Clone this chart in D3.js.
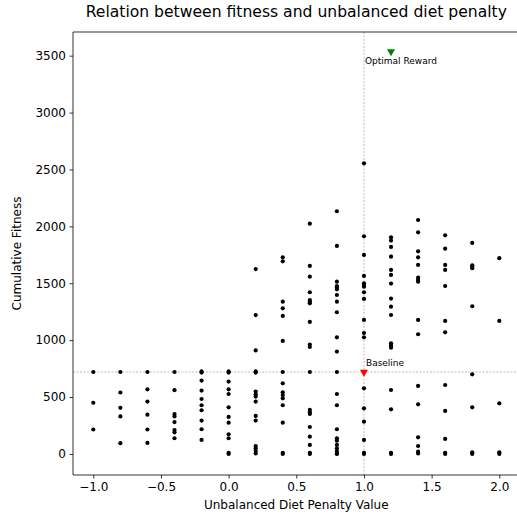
<!DOCTYPE html>
<html>
<head>
<meta charset="utf-8">
<script src="https://cdn.jsdelivr.net/npm/d3@7"></script>
<style>
  body { margin: 0; background: #fff; overflow: hidden; }
  text { font-family: "DejaVu Sans", sans-serif; }
</style>
</head>
<body>
<svg></svg>
<script>
// penalty values (x) and the fitness values found at each
const penalties = [-1.0, -0.8, -0.6, -0.4, -0.2, 0.0, 0.2, 0.4, 0.6, 0.8, 1.0, 1.2, 1.4, 1.6, 1.8, 2.0];
const fitness = [
  [720, 450, 215],
  [720, 540, 405, 330, 95],
  [720, 568, 460, 345, 215, 97],
  [720, 560, 350, 330, 280, 210, 190, 138],
  [725, 715, 645, 557, 483, 428, 384, 293, 217, 123],
  [725, 715, 636, 568, 527, 410, 325, 275, 173, 138, 10, 0],
  [1625, 1220, 910, 725, 715, 548, 524, 504, 460, 334, 293, 70, 50, 26, 5],
  [1728, 1693, 1338, 1280, 1213, 993, 720, 621, 542, 518, 489, 428, 275, 10, 0],
  [2024, 1652, 1558, 1421, 1353, 1338, 1324, 1160, 962, 940, 720, 387, 366, 351, 237, 152, 79, 10, 0],
  [2133, 1828, 1514, 1476, 1462, 1447, 1397, 1338, 1245, 1025, 900, 720, 527, 428, 217, 138, 117, 79, 50, 26, 5, 0],
  [2554, 1913, 1749, 1564, 1500, 1485, 1470, 1421, 1362, 1178, 1063, 1025, 720, 577, 401, 284, 123, 10, 0],
  [1904, 1875, 1819, 1734, 1617, 1573, 1497, 1365, 1294, 1221, 973, 952, 934, 562, 392, 10, 0],
  [2056, 1948, 1781, 1728, 1661, 1549, 1529, 1514, 1178, 1052, 598, 436, 146, 70, 20, 5],
  [1921, 1804, 1661, 1617, 1476, 1169, 1069, 606, 378, 132, 10, 0],
  [1854, 1658, 1646, 1632, 1298, 700, 410, 15, 0],
  [1720, 1169, 445, 15, 0]
];
const baseline = { x: 1.0, y: 720, label: "Baseline" };
const optimal = { x: 1.2, y: 3535, label: "Optimal Reward" };
const xTicks = [-1.0, -0.5, 0.0, 0.5, 1.0, 1.5, 2.0];
const yTicks = [0, 500, 1000, 1500, 2000, 2500, 3000, 3500];

const w = 517, h = 516;
const plotL = 73, plotR = 519.6, plotT = 32, plotB = 475;

const svg = d3.select("svg")
  .attr("width", w)
  .attr("height", h);

const x = d3.scaleLinear().domain([-1.15, 2.15]).range([plotL, plotR]);
const y = d3.scaleLinear().domain([-185, 3708]).range([plotB, plotT]);

const points = [];
penalties.forEach((p, i) => fitness[i].forEach((f) => points.push({ p: p, f: f })));

// reference lines
svg.append("line")
  .attr("x1", x(baseline.x)).attr("x2", x(baseline.x))
  .attr("y1", plotT).attr("y2", plotB)
  .attr("stroke", "#b0b0b0").attr("stroke-width", 0.8).attr("stroke-dasharray", "2,1.5");
svg.append("line")
  .attr("x1", plotL).attr("x2", plotR)
  .attr("y1", y(baseline.y)).attr("y2", y(baseline.y))
  .attr("stroke", "#b0b0b0").attr("stroke-width", 0.8).attr("stroke-dasharray", "2,1.5");

// dots
svg.append("g").selectAll("circle")
  .data(points)
  .enter()
  .append("circle")
  .attr("cx", (d) => x(d.p))
  .attr("cy", (d) => y(d.f))
  .attr("r", 2.1)
  .attr("fill", "#000");

// triangle markers
const tri = d3.symbol().type(d3.symbolTriangle).size(28);
svg.append("path")
  .attr("d", tri)
  .attr("transform", `translate(${x(baseline.x)},${y(baseline.y)}) rotate(180)`)
  .attr("fill", "red");
svg.append("path")
  .attr("d", tri)
  .attr("transform", `translate(${x(optimal.x)},${y(optimal.y)}) rotate(180)`)
  .attr("fill", "green");

svg.append("text")
  .attr("x", x(baseline.x) + 2).attr("y", y(baseline.y) - 6)
  .attr("font-size", 9)
  .text(baseline.label);
svg.append("text")
  .attr("x", x(1.0) + 1).attr("y", y(optimal.y) + 12)
  .attr("font-size", 9)
  .text(optimal.label);

// axes
const xAxis = svg.append("g")
  .attr("transform", `translate(0,${plotB})`)
  .call(d3.axisBottom(x).tickValues(xTicks).tickSize(3.5).tickPadding(3.5)
    .tickFormat((d) => d3.format(".1f")(d).replace("-", "\u2212")));
const yAxis = svg.append("g")
  .attr("transform", `translate(${plotL},0)`)
  .call(d3.axisLeft(y).tickValues(yTicks).tickSize(3.5).tickPadding(3.5)
    .tickFormat(d3.format("d")));

[xAxis, yAxis].forEach((g) => {
  g.select(".domain").remove();
  g.selectAll("text").attr("font-size", 12).attr("font-family", "DejaVu Sans").attr("fill", "#000");
  g.selectAll("line").attr("stroke", "#000").attr("stroke-width", 0.8);
});

// frame (right spine falls outside the window)
const frame = svg.append("g")
  .attr("stroke", "#000").attr("stroke-width", 0.8);
frame.append("line").attr("x1", plotL).attr("x2", plotL).attr("y1", plotT).attr("y2", plotB);
frame.append("line").attr("x1", plotL).attr("x2", w).attr("y1", plotT).attr("y2", plotT);
frame.append("line").attr("x1", plotL).attr("x2", w).attr("y1", plotB).attr("y2", plotB);

svg.append("text")
  .attr("x", (plotL + plotR) / 2).attr("y", 17)
  .attr("text-anchor", "middle").attr("font-size", 15.6)
  .text("Relation between fitness and unbalanced diet penalty");
svg.append("text")
  .attr("x", (plotL + plotR) / 2).attr("y", 509)
  .attr("text-anchor", "middle").attr("font-size", 12)
  .text("Unbalanced Diet Penalty Value");
svg.append("text")
  .attr("transform", `translate(21,${(plotT + plotB) / 2}) rotate(-90)`)
  .attr("text-anchor", "middle").attr("font-size", 12)
  .text("Cumulative Fitness");
</script>
</body>
</html>
